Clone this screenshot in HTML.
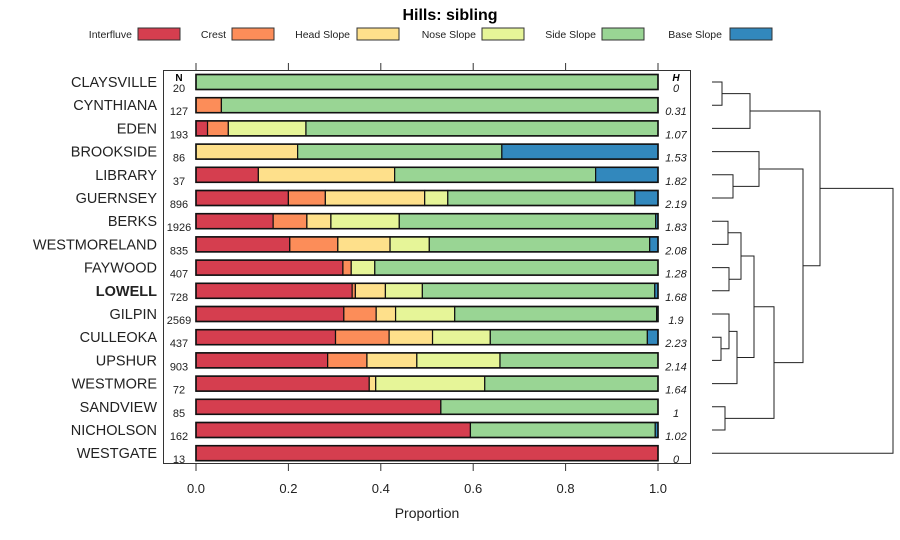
<!DOCTYPE html>
<html><head><meta charset="utf-8"><style>
html,body{margin:0;padding:0;background:#fff;}
svg{display:block;font-family:"Liberation Sans",sans-serif;}
</style></head><body>
<svg id="chart" width="900" height="540"></svg>
<script>
const soils=["CLAYSVILLE","CYNTHIANA","EDEN","BROOKSIDE","LIBRARY","GUERNSEY","BERKS","WESTMORELAND","FAYWOOD","LOWELL","GILPIN","CULLEOKA","UPSHUR","WESTMORE","SANDVIEW","NICHOLSON","WESTGATE"];
const classes=["Interfluve","Crest","Head Slope","Nose Slope","Side Slope","Base Slope"];
const colors=["#D53E4F","#FC8D59","#FEE08B","#E6F598","#99D594","#3288BD"];
const nVals=[20,127,193,86,37,896,1926,835,407,728,2569,437,903,72,85,162,13];
const hVals=["0","0.31","1.07","1.53","1.82","2.19","1.83","2.08","1.28","1.68","1.9","2.23","2.14","1.64","1","1.02","0"];
const interfluve=[0,0,0.025,0,0.135,0.2,0.167,0.203,0.318,0.338,0.32,0.302,0.285,0.375,0.53,0.594,1];
const crest=[0,0.055,0.045,0,0,0.08,0.073,0.104,0.018,0.007,0.07,0.116,0.085,0,0,0,0];
const headSlope=[0,0,0,0.22,0.295,0.215,0.052,0.113,0,0.065,0.042,0.094,0.108,0.014,0,0,0];
const noseSlope=[0,0,0.168,0,0,0.05,0.148,0.085,0.051,0.08,0.128,0.125,0.18,0.236,0,0,0];
const sideSlope=[1,0.945,0.762,0.442,0.435,0.405,0.555,0.477,0.613,0.503,0.437,0.34,0.342,0.375,0.47,0.4,0];
const baseSlope=[0,0,0,0.338,0.135,0.05,0.005,0.018,0,0.007,0.003,0.023,0,0,0,0.006,0];
const xTicks=[0,0.2,0.4,0.6,0.8,1.0];
const xTickLabels=["0.0","0.2","0.4","0.6","0.8","1.0"];
// dendrogram merges: negative = leaf -(i+1); positive = earlier merge number (1-based)
const mergeLeft=[-1,-5,-7,-9,-12,-11,6,-15,1,-4,3,11,12,10,9,15];
const mergeRight=[-2,-6,-8,-10,-13,5,-14,-16,-3,2,4,7,8,13,14,-17];
const mergeHeight=[10,21,16,17,9,17,25,13,38,47,29,42,62,91,108,181];
</script>
<script>
const svg=document.getElementById('chart');
const NS="http://www.w3.org/2000/svg";
function mk(t,a,p){const e=document.createElementNS(NS,t);for(const k in a)e.setAttribute(k,a[k]);(p||svg).appendChild(e);return e;}
const x0=196,x1=658;
const xs=v=>x0+(x1-x0)*v;
const ys=i=>82+i*23.2;
const series=[interfluve,crest,headSlope,noseSlope,sideSlope,baseSlope];

let t=mk('text',{x:450,y:20,'text-anchor':'middle','font-size':16,'font-weight':'bold'});t.textContent="Hills: sibling";


const legX=[[132,138],[226,232],[350,357],[476,482],[596,602],[722,730]];
classes.forEach((c,k)=>{
  const g=mk('g',{});
  
  
  const tx=mk('text',{x:legX[k][0],y:38,'text-anchor':'end','font-size':10.5,fill:'#222'},g);tx.textContent=c;
  mk('rect',{x:legX[k][1],y:28,width:42,height:12,fill:colors[k],stroke:'#333','stroke-width':1},g);
});

const panel=mk('rect',{x:163.5,y:70.5,width:527,height:393,fill:'none',stroke:'#333','stroke-width':1});


xTicks.forEach((v,i)=>{
  mk('line',{x1:xs(v),x2:xs(v),y1:63,y2:70,stroke:'#333'});
  mk('line',{x1:xs(v),x2:xs(v),y1:464,y2:471,stroke:'#333'});
  const l=mk('text',{x:xs(v),y:493,'text-anchor':'middle','font-size':13,fill:'#222'});l.textContent=xTickLabels[i];
  
});
t=mk('text',{x:427,y:518,'text-anchor':'middle','font-size':14,fill:'#222'});t.textContent="Proportion";


t=mk('text',{x:179,y:81,'text-anchor':'middle','font-size':10,'font-weight':'bold'});t.textContent="N";
t=mk('text',{x:676,y:81,'text-anchor':'middle','font-size':10,'font-weight':'bold','font-style':'italic'});t.textContent="H";

soils.forEach((s,i)=>{
  const y=ys(i);
  const lab=mk('text',{x:157,y:y+5,'text-anchor':'end','font-size':14.5,fill:'#222','font-weight':s==="LOWELL"?'bold':'normal'});lab.textContent=s;
  
  const n=mk('text',{x:179,y:y+10,'text-anchor':'middle','font-size':11,fill:'#222'});n.textContent=nVals[i];
  
  const h=mk('text',{x:676,y:y+10,'text-anchor':'middle','font-size':11,'font-style':'italic',fill:'#222'});h.textContent=hVals[i];
  
  let cum=0;
  series.forEach((arr,k)=>{
    const v=arr[i];if(v<=0){return;}
    const r=mk('rect',{x:xs(cum),y:y-7.5,width:xs(cum+v)-xs(cum),height:15,fill:colors[k],stroke:'#111','stroke-width':1.2});
    
    cum+=v;
  });
  mk('rect',{x:x0,y:y-7.5,width:x1-x0,height:15,fill:'none',stroke:'#111','stroke-width':1.6});
});

// dendrogram
const leafX=712;
const node={};
function pos(id){ if(id<0) return {x:leafX,y:ys(-id-1)}; return node[id]; }
mergeLeft.forEach((a,j)=>{
  const A=pos(a),B=pos(mergeRight[j]);const hx=leafX+mergeHeight[j];
  const p=mk('path',{d:`M${A.x},${A.y}H${hx}V${B.y}H${B.x}`,fill:'none',stroke:'#222','stroke-width':1});
  
  node[j+1]={x:hx,y:(A.y+B.y)/2};
});
</script>
</body></html>
